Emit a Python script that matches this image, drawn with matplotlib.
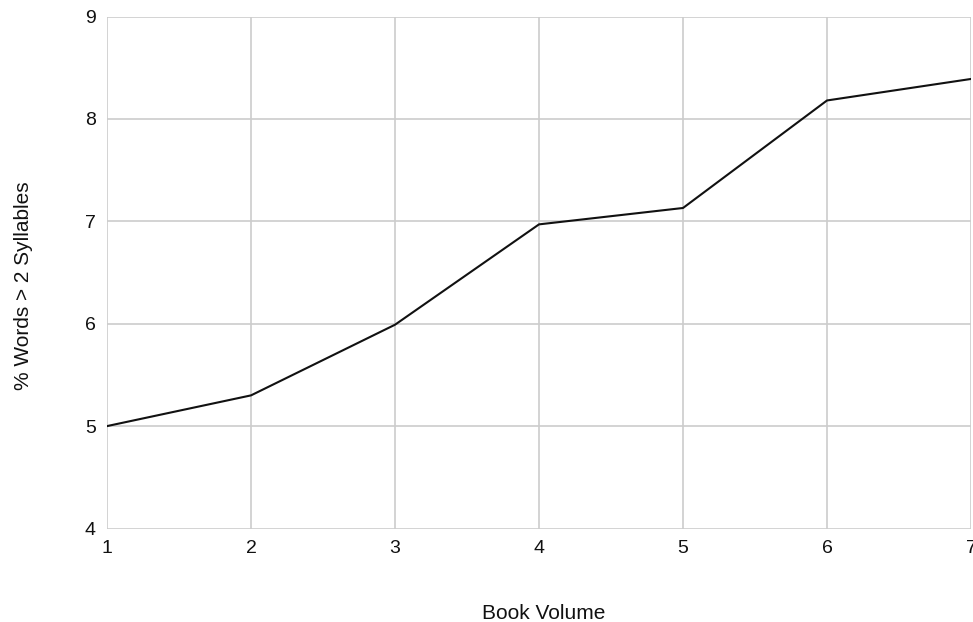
import matplotlib.pyplot as plt

plt.rcParams['font.family'] = ['Liberation Sans', 'DejaVu Sans']

volumes = [1, 2, 3, 4, 5, 6, 7]
pct_words = [5.0, 5.30, 5.99, 6.97, 7.13, 8.18, 8.39]

fig = plt.figure(figsize=(9.73, 6.22), dpi=100)
ax = fig.add_axes([107 / 973, 1 - 528.5 / 622, (971 - 107) / 973, (528.5 - 16.5) / 622])

ax.plot(volumes, pct_words, color='#111111', lw=1.5, zorder=3)

ax.set_xlim(1, 7)
ax.set_ylim(4, 9)
ax.set_xticks(volumes)
ax.set_yticks([4, 5, 6, 7, 8, 9])
ax.grid(True, color='#cccccc', lw=1.2)
for s in ax.spines.values():
    s.set_visible(False)
ax.tick_params(length=0, labelsize=14, colors='#111111')
ax.tick_params(axis='x', pad=8)
ax.tick_params(axis='y', pad=8)

ax.set_xlabel('Book Volume', fontsize=15, color='#111111')
ax.xaxis.set_label_coords(0.505, -0.148)
ax.set_ylabel('% Words > 2 Syllables', fontsize=15, color='#111111')
ax.yaxis.set_label_coords(-0.086, 0.475)

fig.savefig('out.png', dpi=100)
